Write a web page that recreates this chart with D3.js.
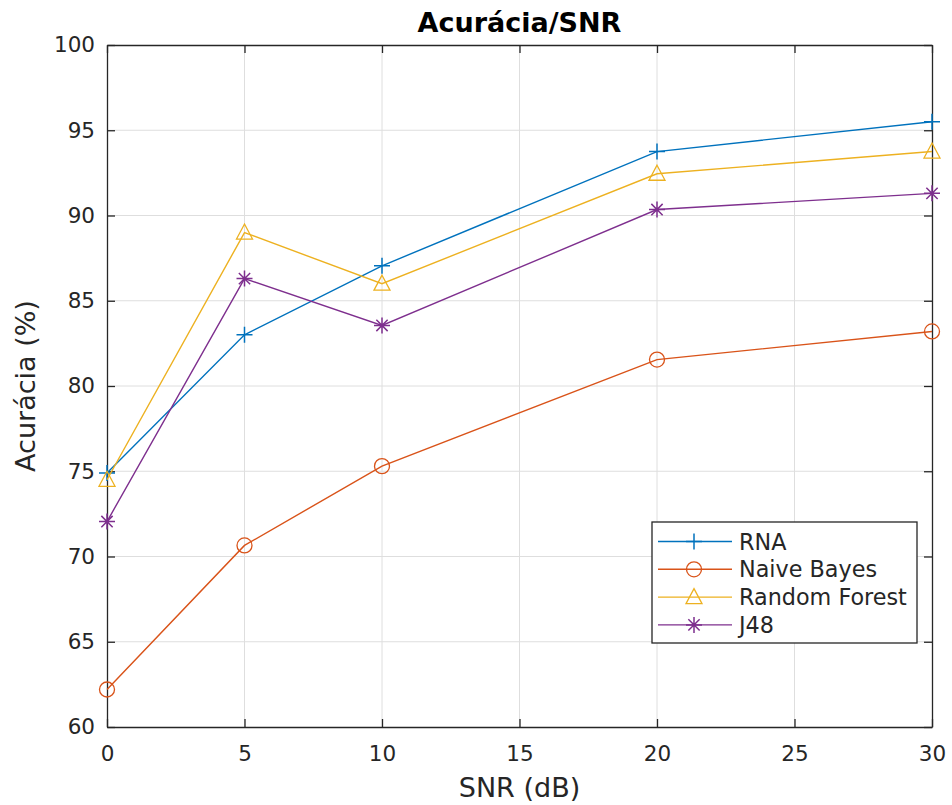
<!DOCTYPE html>
<html><head><meta charset="utf-8">
<script src="https://cdn.jsdelivr.net/npm/d3@7"></script>
<style>body{margin:0;background:#fff}svg{display:block}text{font-family:"DejaVu Sans",sans-serif;fill:#262626}</style>
</head><body><svg id="c" width="952" height="805"></svg>
<script>
const snr = [0, 5, 10, 20, 30];
const rna = [74.9, 83.0, 87.05, 93.75, 95.5];
const naiveBayes = [62.2, 70.65, 75.3, 81.55, 83.2];
const randomForest = [74.5, 89.0, 86.0, 92.45, 93.75];
const j48 = [72.05, 86.3, 83.55, 90.35, 91.3];
const seriesNames = ["RNA", "Naive Bayes", "Random Forest", "J48"];
const colors = ["#0072BD", "#D95319", "#EDB120", "#7E2F8E"];
const markers = ["plus", "circle", "triangle", "star"];
const xTicks = [0, 5, 10, 15, 20, 25, 30];
const yTicks = [60, 65, 70, 75, 80, 85, 90, 95, 100];
const title = "Acurácia/SNR", xLabel = "SNR (dB)", yLabel = "Acurácia (%)";

const series = [rna, naiveBayes, randomForest, j48];
const L = 107, R = 932, T = 45, B = 727;
const svg = d3.select("#c");
const x = d3.scaleLinear().domain([0, 30]).range([L, R]);
const y = d3.scaleLinear().domain([60, 100]).range([B, T]);

// grid
svg.append("g").selectAll("line").data(xTicks.slice(1, -1)).join("line")
  .attr("x1", d => x(d)).attr("x2", d => x(d)).attr("y1", T).attr("y2", B)
  .attr("stroke", "#dedede").attr("stroke-width", 1);
svg.append("g").selectAll("line").data(yTicks.slice(1, -1)).join("line")
  .attr("y1", d => y(d)).attr("y2", d => y(d)).attr("x1", L).attr("x2", R)
  .attr("stroke", "#dedede").attr("stroke-width", 1);

// axes
const tk = 8;
const ax = svg.append("g").attr("transform", `translate(0,${B})`).call(d3.axisBottom(x).tickValues(xTicks).tickSizeInner(-tk).tickSizeOuter(0).tickPadding(19));
const ay = svg.append("g").attr("transform", `translate(${L},0)`).call(d3.axisLeft(y).tickValues(yTicks).tickSizeInner(-tk).tickSizeOuter(0).tickPadding(12));
const axT = svg.append("g").attr("transform", `translate(0,${T})`).call(d3.axisTop(x).tickValues(xTicks).tickSizeInner(-tk).tickSizeOuter(0));
const ayR = svg.append("g").attr("transform", `translate(${R},0)`).call(d3.axisRight(y).tickValues(yTicks).tickSizeInner(-tk).tickSizeOuter(0));
axT.selectAll("text").remove(); ayR.selectAll("text").remove();
[ax, ay, axT, ayR].forEach(g => {
  g.select(".domain").attr("stroke", "#262626").attr("stroke-width", 1.3);
  g.selectAll(".tick line").attr("stroke", "#262626").attr("stroke-width", 1.3);
  g.selectAll("text").attr("font-size", 21.5).attr("fill", "#262626").attr("font-family", "DejaVu Sans");
});

// lines and markers
const line = d3.line().x((d, i) => x(snr[i])).y(d => y(d));
function drawMarker(g, type, cx, cy, c) {
  const s = 8;
  if (type === "plus") {
    g.append("path").attr("d", `M${cx - s},${cy}H${cx + s}M${cx},${cy - s}V${cy + s}`).attr("stroke", c).attr("stroke-width", 1.5).attr("fill", "none");
  } else if (type === "circle") {
    g.append("circle").attr("cx", cx).attr("cy", cy).attr("r", 7.5).attr("stroke", c).attr("stroke-width", 1.3).attr("fill", "none");
  } else if (type === "triangle") {
    g.append("path").attr("d", `M${cx},${cy - 8.5}L${cx + 8},${cy + 6.5}L${cx - 8},${cy + 6.5}Z`).attr("stroke", c).attr("stroke-width", 1.3).attr("fill", "none");
  } else {
    const a = 8, b = a * 0.7071;
    g.append("path").attr("d", `M${cx - a},${cy}H${cx + a}M${cx},${cy - a}V${cy + a}M${cx - b},${cy - b}L${cx + b},${cy + b}M${cx - b},${cy + b}L${cx + b},${cy - b}`).attr("stroke", c).attr("stroke-width", 1.5).attr("fill", "none");
  }
}
series.forEach((s, k) => {
  const g = svg.append("g");
  g.append("path").datum(s).attr("d", line).attr("fill", "none").attr("stroke", colors[k]).attr("stroke-width", 1.4);
  s.forEach((v, i) => drawMarker(g, markers[k], x(snr[i]), y(v), colors[k]));
});

// title & labels
svg.append("text").attr("x", (L + R) / 2).attr("y", 32).attr("text-anchor", "middle").attr("font-size", 27).attr("font-weight", "bold").style("fill", "#000").text(title);
svg.append("text").attr("x", (L + R) / 2).attr("y", 797).attr("text-anchor", "middle").attr("font-size", 27).text(xLabel);
svg.append("text").attr("transform", `translate(35,${(T + B) / 2}) rotate(-90)`).attr("text-anchor", "middle").attr("font-size", 27).text(yLabel);

// legend
const lg = svg.append("g");
lg.append("rect").attr("x", 652).attr("y", 522).attr("width", 265).attr("height", 121).attr("fill", "#fff").attr("stroke", "#262626").attr("stroke-width", 1.3);
seriesNames.forEach((n, k) => {
  const ly = 541.5 + k * 27.8;
  lg.append("line").attr("x1", 658).attr("x2", 732).attr("y1", ly).attr("y2", ly).attr("stroke", colors[k]).attr("stroke-width", 1.4);
  drawMarker(lg, markers[k], 694, ly, colors[k]);
  lg.append("text").attr("x", 739).attr("y", ly).attr("dy", "0.36em").attr("font-size", 22.3).text(n);
});
</script></body></html>
